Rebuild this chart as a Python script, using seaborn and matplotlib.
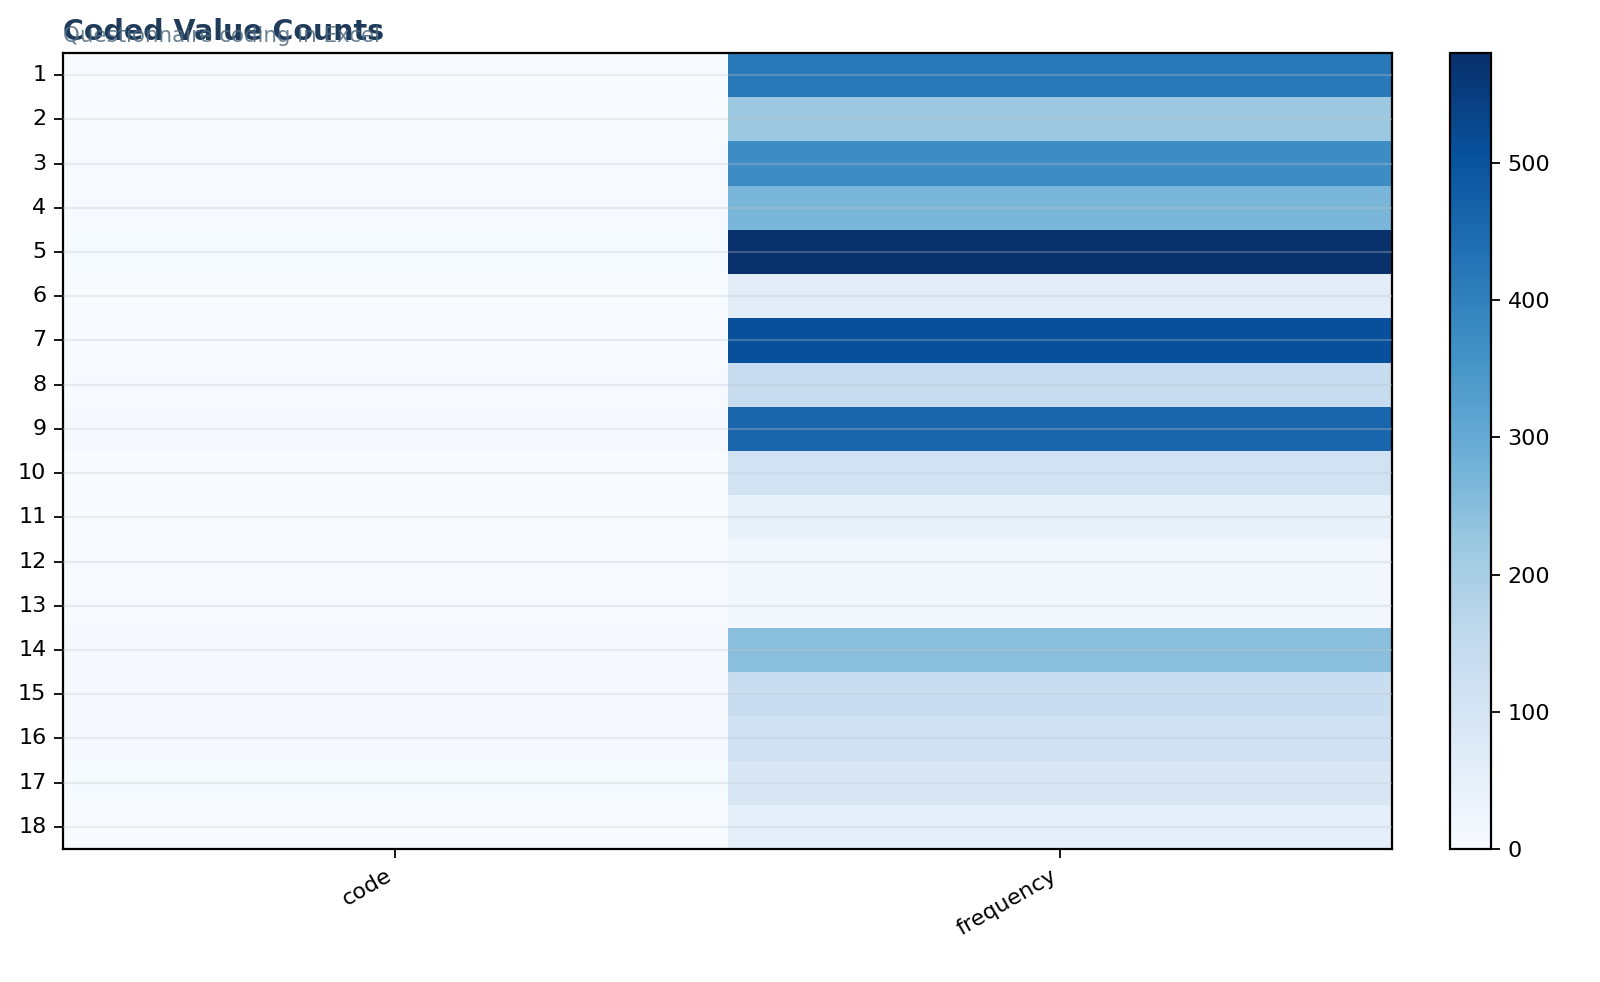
import matplotlib
matplotlib.use("Agg")
import matplotlib.pyplot as plt
import numpy as np
import pandas as pd
import seaborn as sns

row_labels = [str(i) for i in range(1, 19)]
columns = ["code", "frequency"]
code = [1, 2, 3, 4, 5, 1, 2, 3, 9, 1, 2, 3, 4, 8, 8, 9, 6, 2]
frequency = [418, 222, 372, 268, 580, 62, 508, 140, 458, 112, 45, 18, 20, 248, 138, 118, 90, 55]

title = "Coded Value Counts"
subtitle = "Questionnaire coding in Excel"


def main() -> None:
    sns.set_theme(style="white")
    plt.rcParams["font.family"] = ["DejaVu Sans"]
    plt.rcParams["text.color"] = "black"
    plt.rcParams["xtick.color"] = "black"
    plt.rcParams["ytick.color"] = "black"

    data = pd.DataFrame({"code": code, "frequency": frequency}, index=row_labels)[columns]

    fig = plt.figure(figsize=(10, 6.1375), dpi=160)
    ax = fig.add_axes([63 / 1600, 1 - 849 / 982, (1392 - 63) / 1600, (849 - 53) / 982])
    cax = fig.add_axes([1450 / 1600, 1 - 849 / 982, 41 / 1600, (849 - 53) / 982])

    sns.heatmap(
        data,
        cmap="Blues",
        vmin=0,
        vmax=max(frequency),
        ax=ax,
        cbar_ax=cax,
        linewidths=0,
    )

    ax.set_axisbelow(False)
    ax.grid(axis="y", color="#c0c8d0", alpha=0.3, linewidth=1.0)
    ax.grid(axis="x", visible=False)
    for spine in ax.spines.values():
        spine.set_visible(True)
        spine.set_color("black")
        spine.set_linewidth(1.0)

    ax.tick_params(axis="both", which="both", length=4, width=0.8, color="black",
                   labelsize=10, labelcolor="black", left=True, bottom=True)
    ax.set_yticklabels(row_labels, rotation=0)
    ax.set_xticklabels(columns, rotation=30, ha="right")
    ax.set_xlabel("")
    ax.set_ylabel("")

    cax.tick_params(labelsize=10, length=4, width=0.8, right=True, color="black",
                    labelcolor="black")
    cbar = ax.collections[0].colorbar
    cbar.set_ticks([0, 100, 200, 300, 400, 500])
    cbar.outline.set_visible(True)
    cbar.outline.set_edgecolor("black")
    cbar.outline.set_linewidth(1.0)

    fig.text(63 / 1600, 1 - 40 / 982, title, fontsize=12.8, fontweight="bold",
             color="#1f3b5a", ha="left", va="baseline")
    fig.text(63 / 1600, 1 - 42 / 982, subtitle, fontsize=9.6, color="#4f6a80",
             alpha=0.85, ha="left", va="baseline")

    fig.savefig("out.png", dpi=160)
    plt.close(fig)


if __name__ == "__main__":
    main()
